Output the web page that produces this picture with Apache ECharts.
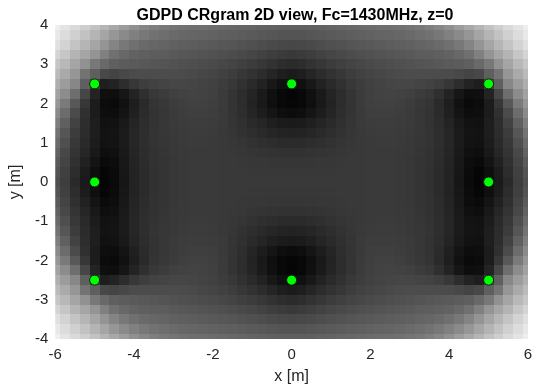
<!DOCTYPE html>
<html>
<head>
<meta charset="utf-8">
<script src="https://cdn.jsdelivr.net/npm/echarts@6/dist/echarts.min.js"></script>
<style>
  html, body { margin: 0; padding: 0; background: #fff; }
  #chart { width: 539px; height: 390px; }
</style>
</head>
<body>
<div id="chart"></div>
<script>
// Cell centres of the CRgram grid (metres), 0.25 m spacing
const xCenters = [-6, -5.75, -5.5, -5.25, -5, -4.75, -4.5, -4.25, -4, -3.75, -3.5, -3.25, -3, -2.75, -2.5, -2.25, -2, -1.75, -1.5, -1.25, -1, -0.75, -0.5, -0.25,
                  0, 0.25, 0.5, 0.75, 1, 1.25, 1.5, 1.75, 2, 2.25, 2.5, 2.75, 3, 3.25, 3.5, 3.75, 4, 4.25, 4.5, 4.75, 5, 5.25, 5.5, 5.75, 6];
const yCenters = [4, 3.75, 3.5, 3.25, 3, 2.75, 2.5, 2.25, 2, 1.75, 1.5, 1.25, 1, 0.75, 0.5, 0.25,
                  0, -0.25, -0.5, -0.75, -1, -1.25, -1.5, -1.75, -2, -2.25, -2.5, -2.75, -3, -3.25, -3.5, -3.75, -4];

// CRgram level per cell (0 = black, 255 = white); one row per y, left to right in x
const crgram = [
  [238,228,218,206,194,181,168,156,144,134,126,120,116,113,111,110,108,106,104,102,100,98,96,95,95,95,96,98,100,102,104,106,108,110,111,113,116,120,126,134,144,156,168,181,194,206,218,228,238],
  [232,220,208,194,180,165,150,138,128,120,114,110,106,103,101,100,98,96,94,92,90,88,86,84,84,84,86,88,90,92,94,96,98,100,101,103,106,110,114,120,128,138,150,165,180,194,208,220,232],
  [224,211,196,181,165,148,132,120,112,106,102,100,97,95,93,91,89,87,85,82,80,77,74,72,71,72,74,77,80,82,85,87,89,91,93,95,97,100,102,106,112,120,132,148,165,181,196,211,224],
  [212,198,180,165,148,128,112,104,98,95,93,92,89,87,85,83,81,79,76,73,70,66,62,59,57,59,62,66,70,73,76,79,81,83,85,87,89,92,93,95,98,104,112,128,148,165,180,198,212],
  [198,184,165,145,120,105,95,92,90,88,86,84,82,80,78,76,74,71,68,64,60,55,50,45,43,45,50,55,60,64,68,71,74,76,78,80,82,84,86,88,90,92,95,105,120,145,165,184,198],
  [186,170,150,115,95,72,68,72,75,76,76,76,76,75,73,70,68,65,61,55,50,44,37,30,27,30,37,44,50,55,61,65,68,70,73,75,76,76,76,76,75,72,68,72,95,115,150,170,186],
  [174,156,135,95,60,30,35,45,55,62,66,68,70,70,69,67,65,61,56,49,42,34,24,16,12,16,24,34,42,49,56,61,65,67,69,70,70,68,66,62,55,45,35,30,60,95,135,156,174],
  [162,140,110,70,35,15,14,22,35,47,56,60,64,66,67,66,64,59,52,45,36,26,16,8,5,8,16,26,36,45,52,59,64,66,67,66,64,60,56,47,35,22,14,15,35,70,110,140,162],
  [150,122,88,55,28,12,10,17,30,42,52,56,60,63,65,65,63,59,52,45,35,25,15,8,6,8,15,25,35,45,52,59,63,65,65,63,60,56,52,42,30,17,10,12,28,55,88,122,150],
  [138,108,75,48,28,14,13,20,32,43,51,55,59,61,63,63,62,58,52,46,37,29,21,14,12,14,21,29,37,46,52,58,62,63,63,61,59,55,51,43,32,20,13,14,28,48,75,108,138],
  [126,96,66,45,30,17,18,25,36,45,51,55,58,60,61,61,60,58,53,48,42,37,31,27,26,27,31,37,42,48,53,58,60,61,61,60,58,55,51,45,36,25,18,17,30,45,66,96,126],
  [115,86,60,44,30,19,20,27,38,46,52,55,57,59,60,60,59,57,54,50,46,42,38,35,34,35,38,42,46,50,54,57,59,60,60,59,57,55,52,46,38,27,20,19,30,44,60,86,115],
  [106,79,56,42,28,18,19,27,38,46,51,54,56,58,59,59,58,57,55,53,50,47,45,43,43,43,45,47,50,53,55,57,58,59,59,58,56,54,51,46,38,27,19,18,28,42,56,79,106],
  [98,72,52,38,25,14,16,26,37,45,50,53,56,57,58,58,58,57,56,55,53,52,51,50,50,50,51,52,53,55,56,57,58,58,58,57,56,53,50,45,37,26,16,14,25,38,52,72,98],
  [90,68,48,33,20,10,13,24,36,44,50,52,55,57,58,58,58,57,57,56,55,55,54,54,54,54,54,55,55,56,57,57,58,58,58,57,55,52,50,44,36,24,13,10,20,33,48,68,90],
  [84,64,45,28,15,6,11,23,35,43,49,52,55,57,58,58,58,57,57,57,56,56,56,56,56,56,56,56,56,57,57,57,58,58,58,57,55,52,49,43,35,23,11,6,15,28,45,64,84],
  [80,62,42,26,12,5,10,22,35,43,49,52,55,57,58,58,58,57,57,57,57,57,57,57,57,57,57,57,57,57,57,57,58,58,58,57,55,52,49,43,35,22,10,5,12,26,42,62,80],
  [84,64,45,28,15,6,11,23,35,43,49,52,55,57,58,58,58,57,57,57,56,56,56,56,56,56,56,56,56,57,57,57,58,58,58,57,55,52,49,43,35,23,11,6,15,28,45,64,84],
  [90,68,48,33,20,10,13,24,36,44,50,52,55,57,58,58,58,57,57,56,55,55,54,54,54,54,54,55,55,56,57,57,58,58,58,57,55,52,50,44,36,24,13,10,20,33,48,68,90],
  [98,72,52,38,25,14,16,26,37,45,50,53,56,57,58,58,58,57,56,55,53,52,51,50,50,50,51,52,53,55,56,57,58,58,58,57,56,53,50,45,37,26,16,14,25,38,52,72,98],
  [106,79,56,42,28,18,19,27,38,46,51,54,56,58,59,59,58,57,55,53,50,47,45,43,43,43,45,47,50,53,55,57,58,59,59,58,56,54,51,46,38,27,19,18,28,42,56,79,106],
  [115,86,60,44,30,19,20,27,38,46,52,55,57,59,60,60,59,57,54,50,46,42,38,35,34,35,38,42,46,50,54,57,59,60,60,59,57,55,52,46,38,27,20,19,30,44,60,86,115],
  [126,96,66,45,30,17,18,25,36,45,51,55,58,60,61,61,60,58,53,48,42,37,31,27,26,27,31,37,42,48,53,58,60,61,61,60,58,55,51,45,36,25,18,17,30,45,66,96,126],
  [138,108,75,48,28,14,13,20,32,43,51,55,59,61,63,63,62,58,52,46,37,29,21,14,12,14,21,29,37,46,52,58,62,63,63,61,59,55,51,43,32,20,13,14,28,48,75,108,138],
  [150,122,88,55,28,12,10,17,30,42,52,56,60,63,65,65,63,59,52,45,35,25,15,8,6,8,15,25,35,45,52,59,63,65,65,63,60,56,52,42,30,17,10,12,28,55,88,122,150],
  [162,140,110,70,35,15,14,22,35,47,56,60,64,66,67,66,64,59,52,45,36,26,16,8,5,8,16,26,36,45,52,59,64,66,67,66,64,60,56,47,35,22,14,15,35,70,110,140,162],
  [174,156,135,95,60,30,35,45,55,62,66,68,70,70,69,67,65,61,56,49,42,34,24,16,12,16,24,34,42,49,56,61,65,67,69,70,70,68,66,62,55,45,35,30,60,95,135,156,174],
  [186,170,150,115,95,72,68,72,75,76,76,76,76,75,73,70,68,65,61,55,50,44,37,30,27,30,37,44,50,55,61,65,68,70,73,75,76,76,76,76,75,72,68,72,95,115,150,170,186],
  [198,184,165,145,120,105,95,92,90,88,86,84,82,80,78,76,74,71,68,64,60,55,50,45,43,45,50,55,60,64,68,71,74,76,78,80,82,84,86,88,90,92,95,105,120,145,165,184,198],
  [212,198,180,165,148,128,112,104,98,95,93,92,89,87,85,83,81,79,76,73,70,66,62,59,57,59,62,66,70,73,76,79,81,83,85,87,89,92,93,95,98,104,112,128,148,165,180,198,212],
  [224,211,196,181,165,148,132,120,112,106,102,100,97,95,93,91,89,87,85,82,80,77,74,72,71,72,74,77,80,82,85,87,89,91,93,95,97,100,102,106,112,120,132,148,165,181,196,211,224],
  [232,220,208,194,180,165,150,138,128,120,114,110,106,103,101,100,98,96,94,92,90,88,86,84,84,84,86,88,90,92,94,96,98,100,101,103,106,110,114,120,128,138,150,165,180,194,208,220,232],
  [238,228,218,206,194,181,168,156,144,134,126,120,116,113,111,110,108,106,104,102,100,98,96,95,95,95,96,98,100,102,104,106,108,110,111,113,116,120,126,134,144,156,168,181,194,206,218,228,238]
];

// Anchor positions (metres)
const sensorX = [-5, 0, 5, -5, 5, -5, 0, 5];
const sensorY = [2.5, 2.5, 2.5, 0, 0, -2.5, -2.5, -2.5];

const cellHalf = 0.125;
const cells = [];
yCenters.forEach((y, i) => {
  xCenters.forEach((x, j) => { cells.push([x, y, crgram[i][j]]); });
});
const sensors = sensorX.map((x, k) => [x, sensorY[k]]);

const font = 'Liberation Sans, Arial, Helvetica, sans-serif';
const textColor = '#262626';

const chart = echarts.init(document.getElementById('chart'), null, { renderer: 'canvas' });
chart.setOption({
  animation: false,
  backgroundColor: '#ffffff',
  title: {
    text: 'GDPD CRgram 2D view, Fc=1430MHz, z=0',
    left: 290,
    textAlign: 'center',
    top: 3,
    textStyle: { fontFamily: font, fontSize: 16, fontWeight: 'bold', color: '#000000' }
  },
  grid: { left: 53, right: 11, top: 25, bottom: 50 },
  xAxis: {
    type: 'value', min: -6, max: 6, interval: 2,
    name: 'x [m]', nameLocation: 'middle', nameGap: 30,
    nameTextStyle: { fontFamily: font, fontSize: 16, color: textColor },
    axisLine: { show: false }, axisTick: { show: false }, splitLine: { show: false },
    axisLabel: { fontFamily: font, fontSize: 15, color: textColor, margin: 8 }
  },
  yAxis: {
    type: 'value', min: -4, max: 4, interval: 1,
    name: 'y [m]', nameLocation: 'middle', nameGap: 22,
    nameTextStyle: { fontFamily: font, fontSize: 16, color: textColor },
    axisLine: { show: false }, axisTick: { show: false }, splitLine: { show: false },
    axisLabel: { fontFamily: font, fontSize: 15, color: textColor, margin: 7 }
  },
  visualMap: {
    type: 'continuous', show: false, seriesIndex: 0, dimension: 2,
    min: 0, max: 255,
    inRange: { color: ['#000000', '#ffffff'] }
  },
  series: [
    {
      type: 'custom',
      data: cells,
      encode: { x: 0, y: 1 },
      clip: true,
      renderItem: function (params, api) {
        const x = api.value(0), y = api.value(1);
        const a = api.coord([x - cellHalf, y + cellHalf]);
        const b = api.coord([x + cellHalf, y - cellHalf]);
        const x0 = Math.round(a[0]), y0 = Math.round(a[1]);
        const x1 = Math.round(b[0]), y1 = Math.round(b[1]);
        const cs = params.coordSys;
        const r = echarts.graphic.clipRectByRect(
          { x: x0, y: y0, width: x1 - x0, height: y1 - y0 },
          { x: cs.x, y: cs.y, width: cs.width, height: cs.height }
        );
        if (!r) return;
        return { type: 'rect', shape: r, style: { fill: api.visual('color') } };
      }
    },
    {
      type: 'scatter',
      data: sensors,
      symbol: 'circle',
      symbolSize: 10,
      z: 5,
      itemStyle: { color: '#00ff00', borderColor: '#1a1a1a', borderWidth: 1, opacity: 1 }
    }
  ]
});
</script>
</body>
</html>
